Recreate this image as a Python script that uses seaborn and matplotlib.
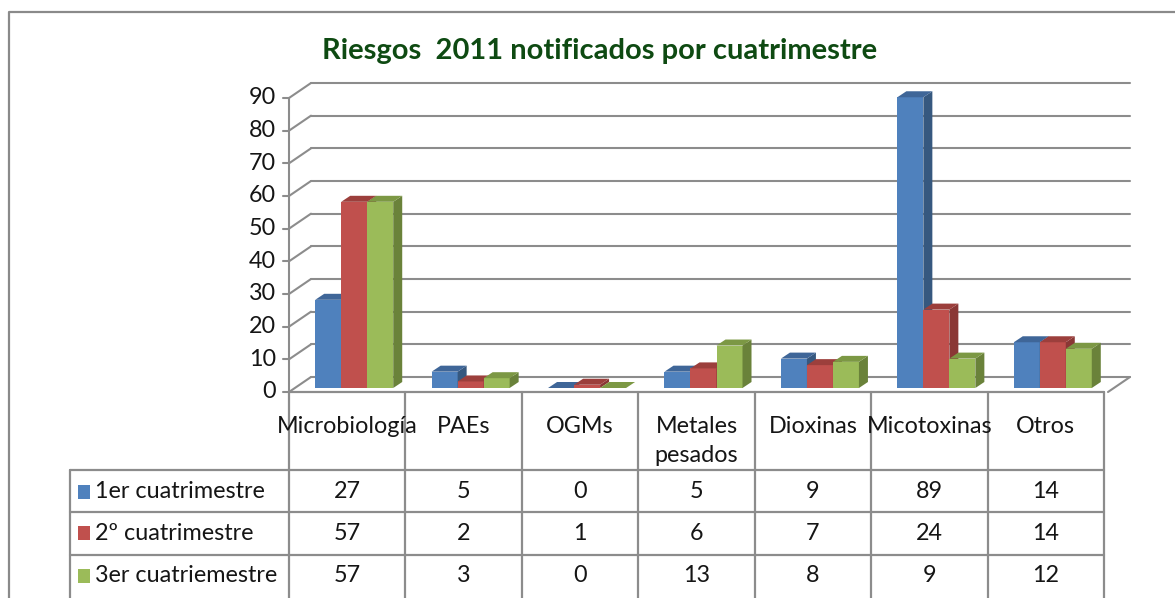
import numpy as np
import pandas as pd
import seaborn as sns
import matplotlib.pyplot as plt
from matplotlib.patches import Polygon, Rectangle
from matplotlib.transforms import offset_copy

categories = ["Microbiología", "PAEs", "OGMs", "Metales\npesados",
              "Dioxinas", "Micotoxinas", "Otros"]
series_names = ["1er cuatrimestre", "2º cuatrimestre", "3er cuatriemestre"]
q1_values = [27, 5, 0, 5, 9, 89, 14]
q2_values = [57, 2, 1, 6, 7, 24, 14]
q3_values = [57, 3, 0, 13, 8, 9, 12]
y_ticks = [0, 10, 20, 30, 40, 50, 60, 70, 80, 90]

front_cols = ["#4F81BD", "#C0504D", "#9BBB59"]
side_cols = ["#36587F", "#8A3735", "#6A823A"]
top_cols = ["#3F6698", "#9C3F3C", "#7C9844"]

sns.set_style("white")
plt.rcParams['font.family'] = ['Lato', 'DejaVu Sans']

W, H = 1175, 598
fig = plt.figure(figsize=(W / 100, H / 100), dpi=100)

# background axes in pixel units for border, table and text
bg = fig.add_axes([0, 0, 1, 1])
bg.set_xlim(0, W)
bg.set_ylim(H, 0)
bg.axis("off")

line_col = "#8C8C8C"
txt_col = "#151515"
fs = 16.8
bg.plot([9, 9, W], [H, 12, 12], color="#8A8A8A", lw=1.6)

bg.text(600, 51, "Riesgos  2011 notificados por cuatrimestre", ha="center",
        va="center", fontsize=21, fontweight="bold", color="#0E4A12")

# plot area (front plane) geometry
x_left, x_right = 289, 1104
y_zero, y_top = 392, 98
ax = fig.add_axes([x_left / W, 1 - y_zero / H, (x_right - x_left) / W,
                   (y_zero - y_top) / H])
ax.set_xlim(-0.5, len(categories) - 0.5)
ax.set_ylim(0, 90)
ax.axis("off")
ax.patch.set_alpha(0)

df = pd.DataFrame({
    "categoria": categories * 3,
    "serie": np.repeat(series_names, len(categories)),
    "valor": q1_values + q2_values + q3_values,
})

sns.barplot(data=df, x="categoria", y="valor", hue="serie", order=categories,
            hue_order=series_names, palette=front_cols, width=0.67,
            saturation=1, legend=False, ax=ax, linewidth=0)

px_x = (x_right - x_left) / len(categories)
px_y = (y_zero - y_top) / 90.0

# back wall grid and side connectors
wall_dx, wall_dy = 22, 15
wall_tr = offset_copy(ax.transData, fig=fig, x=wall_dx, y=wall_dy, units="dots")
x_end = len(categories) - 0.5 + 4 / px_x
for v in y_ticks:
    ax.plot([-0.5, x_end], [v, v], color=line_col, lw=1.5,
            transform=wall_tr, clip_on=False, zorder=1)
    ax.plot([-0.5, -0.5 + wall_dx / px_x], [v, v + wall_dy / px_y],
            color=line_col, lw=1.5, clip_on=False, zorder=1)
    ax.plot([-0.5 - 6 / px_x, -0.5], [v, v], color=line_col, lw=1.5,
            clip_on=False, zorder=1)
    bg.text(276, y_zero - v * px_y, str(v), ha="right", va="center",
            fontsize=fs, color=txt_col)
ax.plot([-0.5, -0.5], [0, 90], color=line_col, lw=1.5, clip_on=False, zorder=1)
ax.plot([x_end, x_end + (wall_dx) / px_x], [0, wall_dy / px_y],
        color=line_col, lw=1.5, clip_on=False, zorder=1)

# 3D bars: shift seaborn bars slightly back and add side/top faces
bar_tr = offset_copy(ax.transData, fig=fig, x=7, y=4, units="dots")
dxu, dyu = 9 / px_x, 6 / px_y
bars = sorted(ax.patches, key=lambda p: p.get_x())
for i, p in enumerate(bars):
    k = front_cols.index(
        "#%02X%02X%02X" % tuple(int(round(c * 255)) for c in p.get_facecolor()[:3]))
    x0, w, h = p.get_x(), p.get_width(), p.get_height()
    p.set_transform(bar_tr)
    p.set_clip_on(False)
    p.set_zorder(10 + 3 * i)
    side = Polygon([(x0 + w, 0), (x0 + w + dxu, dyu), (x0 + w + dxu, h + dyu),
                    (x0 + w, h)], closed=True, facecolor=side_cols[k],
                   edgecolor="none", transform=bar_tr, clip_on=False,
                   zorder=11 + 3 * i)
    top = Polygon([(x0, h), (x0 + w, h), (x0 + w + dxu, h + dyu),
                   (x0 + dxu, h + dyu)], closed=True, facecolor=top_cols[k],
                  edgecolor="none", transform=bar_tr, clip_on=False,
                  zorder=12 + 3 * i)
    ax.add_patch(side)
    ax.add_patch(top)

# data table below the chart
edges = np.linspace(x_left, x_right, len(categories) + 1)
row_lines = [470, 512, 555]
row_mid = [492, 533, 576]
table_left = 70
for xe in edges:
    bg.plot([xe, xe], [y_zero, H], color=line_col, lw=1.6)
bg.plot([table_left, table_left], [row_lines[0], H], color=line_col, lw=1.6)
bg.plot([x_left, x_right], [y_zero, y_zero], color=line_col, lw=1.6)
for yl in row_lines:
    bg.plot([table_left, x_right], [yl, yl], color=line_col, lw=1.6)

centers = (edges[:-1] + edges[1:]) / 2
for cx, cat in zip(centers, categories):
    bg.text(cx, 416, cat, ha="center", va="top", fontsize=fs,
            linespacing=1.5, color=txt_col)

for r, (name, vals) in enumerate(zip(series_names,
                                     [q1_values, q2_values, q3_values])):
    bg.add_patch(Rectangle((78, row_mid[r] - 7), 12, 14,
                           facecolor=front_cols[r], edgecolor="none"))
    bg.text(95, row_mid[r], name, ha="left", va="center", fontsize=fs,
            color=txt_col)
    for cx, v in zip(centers, vals):
        bg.text(cx, row_mid[r], str(v), ha="center", va="center",
                fontsize=fs, color=txt_col)

fig.savefig("out.png", dpi=100)
